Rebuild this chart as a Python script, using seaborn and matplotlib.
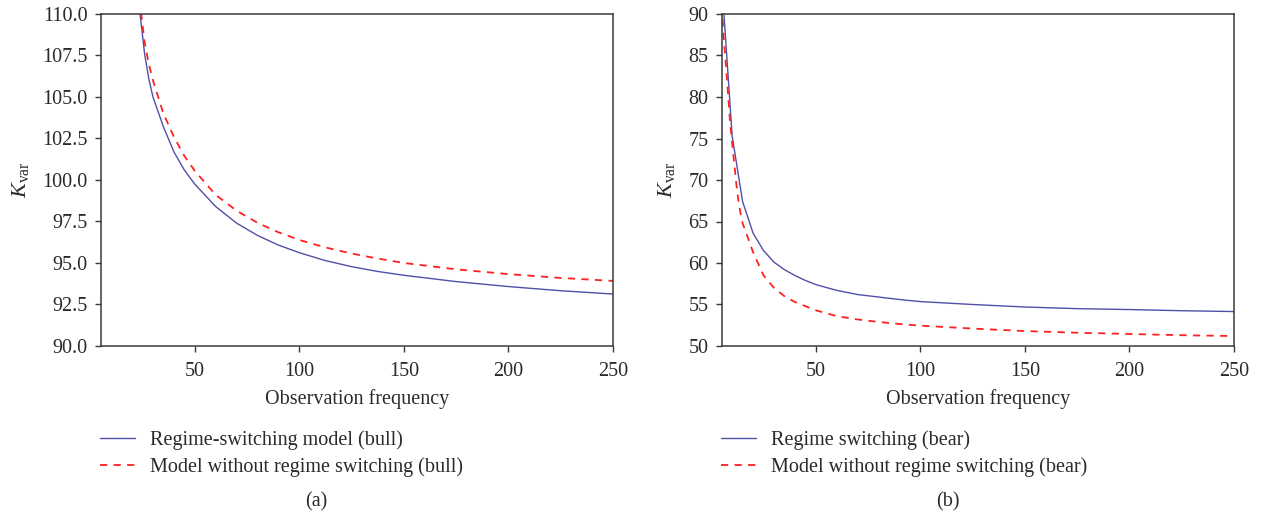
import numpy as np
import pandas as pd
import matplotlib
matplotlib.use("Agg")
import matplotlib.pyplot as plt
import seaborn as sns
from matplotlib.ticker import FormatStrFormatter

# ---- data ----
bull_x = [22, 24, 26, 28, 30, 35, 40, 45, 50, 60, 70, 80, 90, 100, 112, 125, 137, 150, 175, 200, 225, 250]
bull_rs = [112.2, 109.8, 107.6, 106.1, 105.0, 103.2, 101.7, 100.6, 99.75, 98.4, 97.4, 96.66,
           96.08, 95.62, 95.16, 94.78, 94.5, 94.26, 93.88, 93.58, 93.33, 93.13]
bull_nors = [112.5, 110.4, 108.3, 107.0, 106.0, 104.0, 102.6, 101.45, 100.55, 99.1, 98.15, 97.42,
             96.85, 96.39, 95.95, 95.57, 95.28, 95.0, 94.62, 94.33, 94.1, 93.92]

bear_x_rs = [5, 10, 15, 20, 25, 30, 35, 40, 45, 50, 60, 70, 80, 90, 100, 125, 150, 175, 200, 225, 250]
bear_rs = [94.0, 75.3, 67.4, 63.6, 61.5, 60.1, 59.2, 58.5, 57.9, 57.4, 56.7, 56.2, 55.9, 55.6,
           55.35, 55.0, 54.7, 54.5, 54.39, 54.25, 54.15]
bear_x_nors = [5, 6, 7, 8, 9, 10, 11, 12, 13, 14, 15, 20, 25, 30, 35, 40, 45, 50, 60, 70, 80, 90,
               100, 125, 150, 175, 200, 225, 250]
bear_nors = [91.0, 87.0, 84.0, 80.5, 77.0, 74.5, 72.0, 69.5, 67.5, 66.0, 64.8, 61.3, 58.5, 57.0,
             56.0, 55.3, 54.8, 54.3, 53.6, 53.2, 52.9, 52.65, 52.45, 52.1, 51.8, 51.6, 51.45,
             51.3, 51.2]

labels_a = ["Regime-switching model (bull)", "Model without regime switching (bull)"]
labels_b = ["Regime switching (bear)", "Model without regime switching (bear)"]
xticks = [50, 100, 150, 200, 250]
yticks_a = [90.0, 92.5, 95.0, 97.5, 100.0, 102.5, 105.0, 107.5, 110.0]
yticks_b = [50, 55, 60, 65, 70, 75, 80, 85, 90]

# ---- style ----
sns.set_style("ticks")
plt.rcParams["font.family"] = ["Liberation Serif", "DejaVu Serif"]
plt.rcParams["mathtext.fontset"] = "custom"
plt.rcParams["mathtext.rm"] = "Liberation Serif"
plt.rcParams["mathtext.it"] = "Liberation Serif:italic"

BLUE = "#5050A8"
RED = "#FF2020"
GREY = "#3a3a3a"
TXT = "#2a2a2a"
FS = 14.5

fig = plt.figure(figsize=(12.61, 5.20), dpi=100)
W, H = 1261, 520
axA = fig.add_axes([100.7 / W, 1 - 346 / H, 512.3 / W, 332 / H])
axB = fig.add_axes([721.7 / W, 1 - 346 / H, 512.3 / W, 332 / H])


def draw(ax, x1, y1, x2, y2, labels, yticks, ylim, fmt, caption, cap_x):
    sns.lineplot(x=x1, y=y1, ax=ax, color=BLUE, lw=1.0, label=labels[0])
    sns.lineplot(x=x2, y=y2, ax=ax, color=RED, lw=1.3, label=labels[1],
                 linestyle=(0, (4, 3.5)))
    ax.set_xlim(5, 250)
    ax.set_ylim(*ylim)
    ax.set_xticks(xticks)
    ax.set_yticks(yticks)
    if fmt:
        ax.yaxis.set_major_formatter(FormatStrFormatter(fmt))
    for s in ax.spines.values():
        s.set_visible(True)
        s.set_color(GREY)
        s.set_linewidth(1.1)
    ax.tick_params(direction="out", length=4.5, width=1.0, color=GREY,
                   labelsize=FS, labelcolor=TXT)
    ax.tick_params(axis="x", pad=7)
    ax.tick_params(axis="y", pad=5)
    ax.set_xlabel("Observation frequency", fontsize=FS, color=TXT, labelpad=6)
    ax.set_ylabel(r"$K_{\mathrm{var}}$", fontsize=FS + 1.5, color=TXT, labelpad=8)
    leg = ax.legend(loc="upper left", bbox_to_anchor=(-0.002, -0.254), frameon=False,
                    fontsize=FS, handlelength=1.75, handletextpad=0.75,
                    borderaxespad=0, borderpad=0, labelspacing=0.38)
    for t in leg.get_texts():
        t.set_color(TXT)
    fig.text(cap_x / W, 1 - 502 / H, caption, ha="center", va="center",
             fontsize=FS, color=TXT)


draw(axA, bull_x, bull_rs, bull_x, bull_nors, labels_a, yticks_a, (90, 110), "%.1f", "(a)", 316)
draw(axB, bear_x_rs, bear_rs, bear_x_nors, bear_nors, labels_b, yticks_b, (50, 90), None, "(b)", 948)

fig.savefig("out.png", dpi=100)
